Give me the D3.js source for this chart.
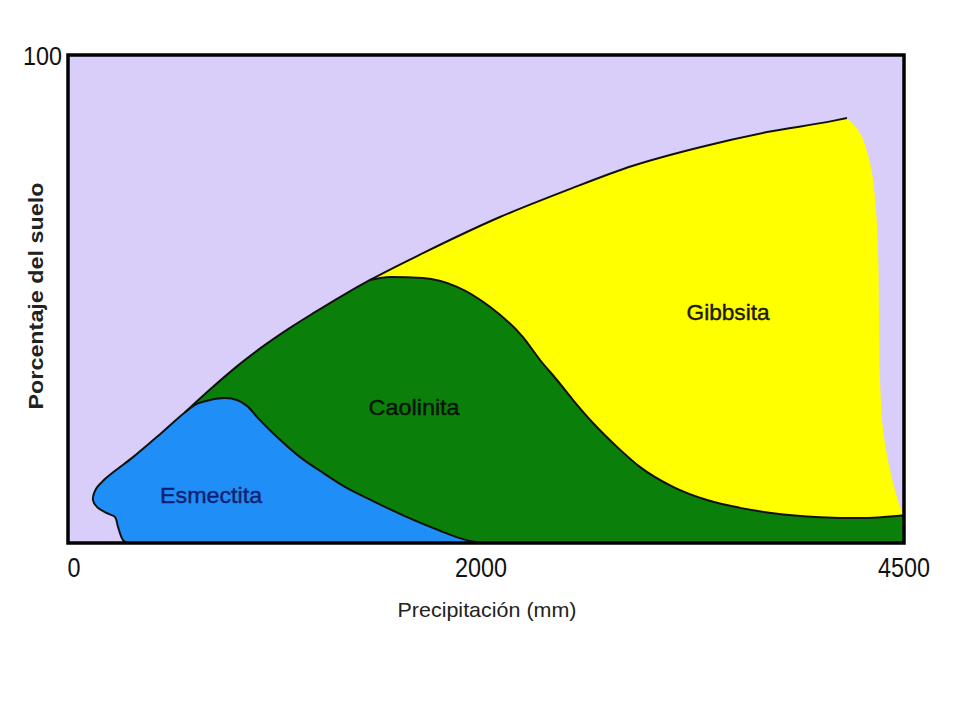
<!DOCTYPE html>
<html>
<head>
<meta charset="utf-8">
<script src="https://cdn.jsdelivr.net/npm/d3@7"></script>
<style>
  html, body { margin: 0; padding: 0; background: #ffffff; }
  svg { display: block; font-family: "Liberation Sans", Arial, sans-serif; }
</style>
</head>
<body>
<svg id="chart" width="960" height="720"></svg>
<script>
// ---- Data (precipitation in mm, percentage of soil) ----
const xTicks = [0, 2000, 4500];
const yTicks = [100];

// Outline of the Esmectita region (from its bottom-left foot, round the bulge, over the hump, down to the axis)
const esmectita = [
  [286, 0], [266, 0.6], [242, 3.3], [228, 5.3], [189, 6.1], [140, 7.4], [121, 8.8],
  [136, 11.1], [174, 12.9], [228, 14.8], [315, 17.6], [446, 22.3], [567, 26.8],
  [625, 28.5], [688, 29.3], [760, 29.7], [818, 29.3], [867, 28.1], [920, 25.6],
  [993, 22.5], [1124, 17.6], [1220, 14.8], [1341, 11.5], [1477, 8.6], [1642, 5.3],
  [1802, 2.5], [1913, 0.8], [2005, 0]
];

// Upper envelope (limit of the lavender area), from the Esmectita junction to the Gibbsita peak
const envelope = [
  [567, 26.8], [697, 31.8], [833, 36.7], [954, 40.6], [1075, 44.1], [1196, 47.3],
  [1317, 50.4], [1463, 53.9], [1719, 59.4], [2112, 66.8], [2508, 72.3], [2898, 77.3],
  [3294, 81.1], [3691, 84.2], [4080, 86.5], [4163, 87.1]
];

// Boundary between Caolinita (below) and Gibbsita (above)
const caolinitaTop = [
  [1463, 53.9], [1560, 54.5], [1719, 54.3], [1884, 52.5], [2053, 48.4], [2248, 42.2],
  [2349, 37.5], [2449, 33.4], [2544, 29.3], [2662, 24.6], [2804, 19.7], [2939, 15.6],
  [3135, 11.5], [3336, 8.8], [3531, 7.2], [3726, 6.1], [4004, 5.3], [4240, 5.1], [4500, 5.7]
];

// Right edge of the Gibbsita region (peak down to the Caolinita strip)
const gibbsitaEdge = [
  [4163, 87.1], [4240, 84.0], [4299, 77.9], [4328, 70.9], [4346, 60.7], [4352, 47.1],
  [4358, 33.4], [4376, 23.2], [4417, 15.0], [4459, 9.4], [4488, 6.4], [4500, 5.7]
];

const regionNames = ["Esmectita", "Caolinita", "Gibbsita"];
const labelX = [693, 1676, 3460];
const labelY = [8.2, 26.2, 45.7];

// ---- Scales ----
const x = d3.scaleLinear().domain([0, 2000, 4500]).range([68, 481, 904]);
const y = d3.scaleLinear().domain([0, 100]).range([543, 55]);

const svg = d3.select("#chart");

const smooth = d3.line().x(d => x(d[0])).y(d => y(d[1])).curve(d3.curveCatmullRom.alpha(0.5));
const mono = d3.line().x(d => x(d[0])).y(d => y(d[1])).curve(d3.curveMonotoneX);
const straight = d3.line().x(d => x(d[0])).y(d => y(d[1]));
function join(...parts) {
  return parts.map((p, i) => i ? p.replace(/^M/, "L") : p).join("") + "Z";
}

const colors = {
  bg: "#d9cdfa",
  blue: "#1f8ff7",
  green: "#0a800a",
  yellow: "#ffff00"
};

// Background of plot
svg.append("rect")
  .attr("x", x(0)).attr("y", y(100))
  .attr("width", x(4500) - x(0)).attr("height", y(0) - y(100))
  .attr("fill", colors.bg);

const iJ = envelope.findIndex(d => d[0] === 1463);

// Gibbsita (yellow) - drawn down to the axis, Caolinita covers the lower part
svg.append("path")
  .attr("d", join(
    mono(envelope.slice(iJ)),
    smooth(gibbsitaEdge),
    straight([[4500, 5.7], [4500, 0], [1463, 0]])
  ))
  .attr("fill", colors.yellow);

// Caolinita (green)
svg.append("path")
  .attr("d", join(
    mono(envelope.slice(0, iJ + 1)),
    mono(caolinitaTop),
    straight([[4500, 5.7], [4500, 0], [567, 0]])
  ))
  .attr("fill", colors.green);

// Esmectita (blue)
svg.append("path")
  .attr("d", smooth(esmectita) + "Z")
  .attr("fill", colors.blue);

// Boundary lines
const lineG = svg.append("g").attr("fill", "none").attr("stroke", "#111").attr("stroke-width", 2)
  .attr("stroke-linejoin", "round");
lineG.append("path").attr("d", smooth(esmectita));
lineG.append("path").attr("d", mono(envelope));
lineG.append("path").attr("d", mono(caolinitaTop));

// Frame
svg.append("rect")
  .attr("x", x(0)).attr("y", y(100))
  .attr("width", x(4500) - x(0)).attr("height", y(0) - y(100))
  .attr("fill", "none").attr("stroke", "#000").attr("stroke-width", 3.5);

// Region labels
const labelColors = ["#0c1f70", "#061206", "#1a1a00"];
const labelWidths = [102, 91, 83];
regionNames.forEach((name, i) => {
  svg.append("text")
    .attr("x", x(labelX[i])).attr("y", y(labelY[i]))
    .attr("text-anchor", "middle")
    .attr("font-size", 22)
    .attr("fill", labelColors[i])
    .attr("stroke", labelColors[i]).attr("stroke-width", 0.4)
    .attr("textLength", labelWidths[i]).attr("lengthAdjust", "spacingAndGlyphs")
    .text(name);
});

// X tick labels
const tickW = { 0: 13, 2000: 52, 4500: 52 };
xTicks.forEach((t, i) => {
  svg.append("text")
    .attr("x", x(t) + (i === 0 ? 6 : 0)).attr("y", y(0) + 34)
    .attr("text-anchor", "middle")
    .attr("font-size", 27)
    .attr("fill", "#111")
    .attr("textLength", tickW[t]).attr("lengthAdjust", "spacingAndGlyphs")
    .text(t);
});

// Y tick label
yTicks.forEach(t => {
  svg.append("text")
    .attr("x", x(0) - 6).attr("y", y(t) + 10)
    .attr("text-anchor", "end")
    .attr("font-size", 25)
    .attr("fill", "#111")
    .attr("textLength", 39).attr("lengthAdjust", "spacingAndGlyphs")
    .text(t);
});

// Axis titles
svg.append("text")
  .attr("x", 487).attr("y", 617)
  .attr("text-anchor", "middle")
  .attr("font-size", 21)
  .attr("fill", "#222")
  .attr("textLength", 179).attr("lengthAdjust", "spacingAndGlyphs")
  .text("Precipitación (mm)");

svg.append("text")
  .attr("transform", "translate(43,296) rotate(-90)")
  .attr("text-anchor", "middle")
  .attr("font-size", 21)
  .attr("font-weight", "bold")
  .attr("fill", "#222")
  .attr("textLength", 227).attr("lengthAdjust", "spacingAndGlyphs")
  .text("Porcentaje del suelo");
</script>
</body>
</html>
